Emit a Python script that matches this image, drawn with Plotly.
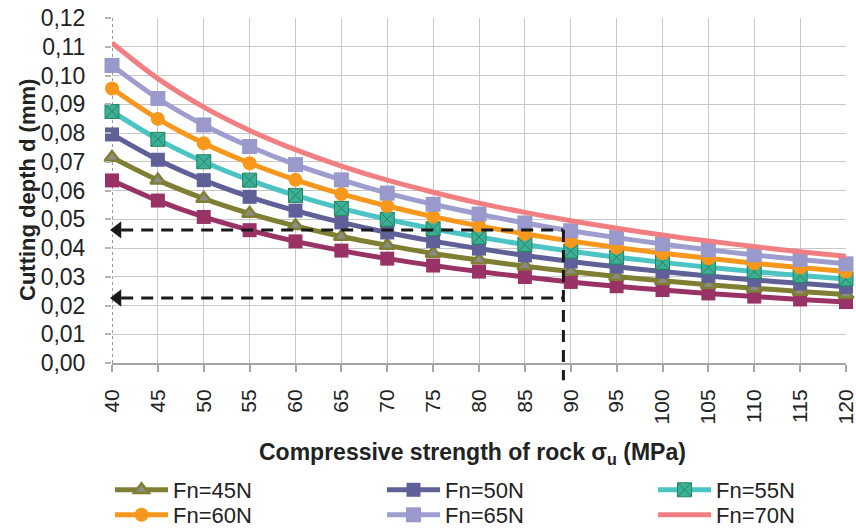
import plotly.graph_objects as go

# Compressive strength of rock (MPa)
sigma_u = [40, 45, 50, 55, 60, 65, 70, 75, 80, 85, 90, 95, 100, 105, 110, 115, 120]

# Cutting depth d (mm) for each normal force
depth_fn40 = [0.0635, 0.0565, 0.0508, 0.0462, 0.0423, 0.0391, 0.0363, 0.0339, 0.0318,
              0.0299, 0.0282, 0.0267, 0.0254, 0.0242, 0.0231, 0.0221, 0.0212]
depth_fn45 = [0.0715, 0.0636, 0.0572, 0.0520, 0.0477, 0.0440, 0.0409, 0.0381, 0.0358,
              0.0337, 0.0318, 0.0301, 0.0286, 0.0272, 0.0260, 0.0249, 0.0238]
depth_fn50 = [0.0795, 0.0707, 0.0636, 0.0578, 0.0530, 0.0489, 0.0454, 0.0424, 0.0398,
              0.0374, 0.0353, 0.0335, 0.0318, 0.0303, 0.0289, 0.0277, 0.0265]
depth_fn55 = [0.0875, 0.0778, 0.0700, 0.0636, 0.0583, 0.0538, 0.0500, 0.0467, 0.0438,
              0.0412, 0.0389, 0.0368, 0.0350, 0.0333, 0.0318, 0.0304, 0.0292]
depth_fn60 = [0.0955, 0.0849, 0.0764, 0.0695, 0.0637, 0.0588, 0.0546, 0.0509, 0.0477,
              0.0449, 0.0424, 0.0402, 0.0382, 0.0364, 0.0347, 0.0332, 0.0318]
depth_fn65 = [0.1035, 0.0920, 0.0828, 0.0753, 0.0690, 0.0637, 0.0591, 0.0552, 0.0518,
              0.0487, 0.0460, 0.0436, 0.0414, 0.0394, 0.0376, 0.0360, 0.0345]
depth_fn70 = [0.1113, 0.0989, 0.0890, 0.0809, 0.0742, 0.0685, 0.0636, 0.0594, 0.0556,
              0.0524, 0.0495, 0.0469, 0.0445, 0.0424, 0.0405, 0.0387, 0.0371]

# Reading guide: rock strength and the two cutting depths
sigma_read = 89.2
depth_read_hi = 0.0463
depth_read_lo = 0.0226

y_range = [0, 0.12]
x_range = [40, 120]

FONT = "Liberation Sans"
TXT = "#222222"

W, H = 856, 530
M_L, M_R, M_T, M_B = 112, 10, 18, 167
PLOT_W = W - M_L - M_R
PLOT_H = H - M_T - M_B


def px_to_paper(px, py):
    return (px - M_L) / PLOT_W, (H - M_B - py) / PLOT_H


# legend slot (left x, row y) in pixels: three columns, two rows
series = [
    dict(name="Fn=40N", y=depth_fn40, color="#993366", symbol="square", mcolor="#993366",
         lcolor="#993366", lw=0, size=14, slot=None),
    dict(name="Fn=45N", y=depth_fn45, color="#7F7F33", symbol="triangle-up", mcolor="#8c8c86",
         lcolor="#7F7F33", lw=2.5, size=13, slot=(115, 490)),
    dict(name="Fn=50N", y=depth_fn50, color="#606099", symbol="square", mcolor="#606099",
         lcolor="#606099", lw=0, size=14, slot=(387, 490)),
    dict(name="Fn=55N", y=depth_fn55, color="#4CC4C4", symbol="square-x", mcolor="#3BAF98",
         lcolor="#23855a", lw=1, size=14, slot=(658, 490)),
    dict(name="Fn=60N", y=depth_fn60, color="#F7981D", symbol="circle", mcolor="#F7981D",
         lcolor="#F7981D", lw=0, size=14, slot=(115, 515)),
    dict(name="Fn=65N", y=depth_fn65, color="#9D9DD0", symbol="square", mcolor="#9999CC",
         lcolor="#9999CC", lw=0, size=15, slot=(387, 515)),
    dict(name="Fn=70N", y=depth_fn70, color="#F17F82", symbol=None, mcolor=None,
         lcolor=None, lw=0, size=0, slot=(658, 515)),
]

fig = go.Figure()
legend_layouts = {}
n_leg = 0

for s in series:
    if s["symbol"] is None:
        mode = "lines"
        marker = None
    else:
        mode = "lines+markers"
        marker = dict(symbol=s["symbol"], size=s["size"], color=s["mcolor"],
                      line=dict(color=s["lcolor"], width=s["lw"]))
    kw = {}
    if s["slot"] is not None:
        n_leg += 1
        key = "legend" if n_leg == 1 else f"legend{n_leg}"
        kw["legend"] = key
        lx, ly = s["slot"]
        legend_layouts[key] = dict(
            orientation="v", xref="container", yref="container",
            x=(lx - 5) / W, y=1 - ly / H, xanchor="left", yanchor="middle",
            itemwidth=53, font=dict(family=FONT, size=22, color=TXT),
            bgcolor="rgba(0,0,0,0)", borderwidth=0,
        )
    fig.add_trace(go.Scatter(
        x=sigma_u, y=s["y"], name=s["name"], mode=mode,
        line=dict(color=s["color"], width=5, shape="spline", smoothing=0.8),
        marker=marker, showlegend=s["slot"] is not None, cliponaxis=False, **kw,
    ))

# Dashed guide lines
dash_style = dict(color="#1a1a1a", width=3, dash="12px,8px")
span = y_range[1] - y_range[0]
fig.add_shape(type="line", xref="x", yref="y", x0=x_range[0] + 1, x1=sigma_read,
              y0=depth_read_hi, y1=depth_read_hi, line=dash_style, layer="above")
fig.add_shape(type="line", xref="x", yref="y", x0=x_range[0] + 1, x1=sigma_read,
              y0=depth_read_lo, y1=depth_read_lo, line=dash_style, layer="above")
fig.add_shape(type="line", xref="x", yref="paper", x0=sigma_read, x1=sigma_read,
              y0=(depth_read_hi - y_range[0]) / span, y1=-0.05, line=dash_style, layer="above")

# Arrowheads at the depth axis
fig.add_trace(go.Scatter(
    x=[x_range[0] + 0.6, x_range[0] + 0.6], y=[depth_read_hi, depth_read_lo],
    mode="markers", marker=dict(symbol="triangle-left", size=15, color="#1a1a1a"),
    showlegend=False, cliponaxis=False, hoverinfo="skip",
))

# Dotted vertical axis line at the first category
fig.add_shape(type="line", xref="x", yref="y", x0=x_range[0], x1=x_range[0],
              y0=y_range[0], y1=y_range[1], line=dict(color="#999999", width=2, dash="dot"),
              layer="below")

xt_x, xt_y = px_to_paper(472, 453)
yt_x, yt_y = px_to_paper(27, 190)

fig.update_layout(
    width=W, height=H,
    margin=dict(l=M_L, r=M_R, t=M_T, b=M_B, autoexpand=False),
    paper_bgcolor="white", plot_bgcolor="white",
    separators=",.",
    font=dict(family=FONT, size=21, color=TXT),
    showlegend=True,
    xaxis=dict(
        range=x_range, tickmode="array", tickvals=sigma_u, ticktext=[str(v) for v in sigma_u],
        tickangle=-90, showgrid=True, gridcolor="#c8c8c8", gridwidth=1,
        showline=True, linecolor="#a6a6a6", linewidth=2,
        ticks="outside", ticklen=7, tickwidth=2, tickcolor="#a6a6a6",
        tickfont=dict(family=FONT, size=21, color=TXT),
        ticklabelstandoff=9,
        ticklabeloverflow="allow", automargin=False,
        zeroline=False,
    ),
    yaxis=dict(
        range=y_range, dtick=0.01, tick0=0, tickformat=".2f",
        showgrid=True, gridcolor="#c8c8c8", gridwidth=1,
        showline=False, ticks="outside", ticklen=6, tickwidth=2, tickcolor="#b5b5b5",
        ticklabelstandoff=15, automargin=False,
        tickfont=dict(family=FONT, size=23, color=TXT),
        zeroline=False,
    ),
    annotations=[
        dict(text="<b>Compressive strength of rock σ<sub>u</sub> (MPa)</b>",
             xref="paper", yref="paper", x=xt_x, y=xt_y,
             xanchor="center", yanchor="middle", showarrow=False,
             font=dict(family=FONT, size=23, color=TXT)),
        dict(text="<b>Cutting depth d (mm)</b>",
             xref="paper", yref="paper", x=yt_x, y=yt_y,
             xanchor="center", yanchor="middle", showarrow=False, textangle=-90,
             font=dict(family=FONT, size=22, color=TXT)),
    ],
    **legend_layouts,
)

fig.write_html("out.html")
